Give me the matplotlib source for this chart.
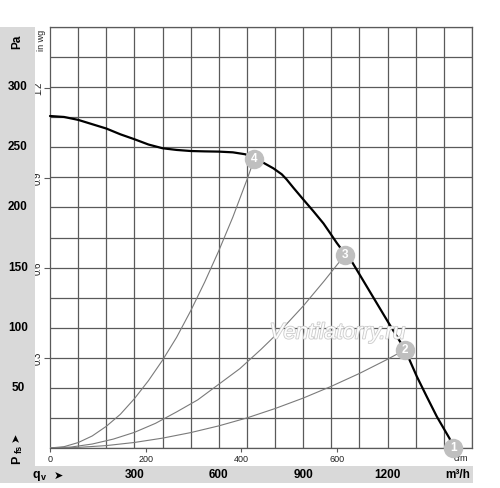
import matplotlib
matplotlib.use("Agg")
import matplotlib.pyplot as plt
import matplotlib.transforms as mtransforms
import matplotlib.patheffects as pe
from matplotlib.patches import Rectangle

plt.rcParams['font.family'] = ['Liberation Sans', 'DejaVu Sans']

# Fan curve (m3/h, Pa)
fan_q = [0, 50, 100, 150, 200, 250, 300, 350, 400, 450, 500, 550, 600, 650, 694, 726,
         758, 794, 824, 841, 865, 900, 936, 972, 995, 1019, 1050, 1072, 1132,
         1203, 1262, 1304, 1339, 1375, 1420, 1434]
fan_p = [276, 275.2, 272.8, 269.2, 265.6, 260.8, 256.7, 252.3, 249.2, 247.8, 246.9,
         246.6, 246.4, 245.8, 244.2, 240, 237.2, 232.5, 227.5, 223.3, 216.4, 206.7,
         196.9, 186.7, 178.9, 170.6, 160.8, 155.3, 131.9, 104.2, 81.7,
         59.4, 42.8, 26.1, 8, 0]

# System curves
sys4_q = [0, 50, 100, 150, 200, 250, 300, 350, 400, 450, 500, 550, 600, 650, 700, 726]
sys4_p = [0, 1.1, 4.5, 10, 18, 28, 41, 56, 73, 92, 114, 138, 164, 192, 223, 240]
sys3_q = [0, 75, 150, 225, 300, 375, 450, 525, 600, 675, 750, 825, 900, 975, 1050]
sys3_p = [0, 0.8, 3.3, 7.4, 13, 20.5, 30, 40, 53, 66, 82, 99, 118, 139, 161]
sys2_q = [0, 100, 200, 300, 400, 500, 600, 700, 800, 900, 1000, 1100, 1200, 1262]
sys2_p = [0, 0.5, 2, 4.6, 8.2, 12.8, 18.4, 25, 32.8, 41.5, 51.3, 62, 73.8, 81.7]

# Operating points
pt_q = [1434, 1262, 1050, 726]
pt_p = [0, 81.7, 160.8, 240]
pt_lbl = ['1', '2', '3', '4']

pa_ticks = [50, 100, 150, 200, 250, 300]
inwg_ticks = [0.3, 0.6, 0.9, 1.2]
cfm_ticks = [0, 200, 400, 600]
m3h_ticks = [300, 600, 900, 1200]

W, H = 500, 488
fig = plt.figure(figsize=(W / 100, H / 100), dpi=100)
fig.patch.set_facecolor('white')

gray = '#d9d9d9'
fig.patches.append(Rectangle((0, 5 / H), 35 / W, (483 - 27) / H, transform=fig.transFigure,
                             facecolor=gray, edgecolor='none', zorder=0))
fig.patches.append(Rectangle((0, 5 / H), 473 / W, 17 / H, transform=fig.transFigure,
                             facecolor=gray, edgecolor='none', zorder=0))

ax = fig.add_axes([50 / W, 40 / H, 422 / W, 421 / H])
ax.set_xlim(0, 1500)
ax.set_ylim(0, 350)

gcol = '#5a5a5a'
for s in ax.spines.values():
    s.set_color(gcol)
    s.set_linewidth(0.9)

ax.set_xticks(range(0, 1501, 100), minor=True)
ax.set_yticks(range(0, 351, 25), minor=True)
ax.grid(which='minor', color=gcol, linewidth=0.9)
ax.tick_params(which='minor', length=0)

ax.set_yticks([v * 249.09 for v in inwg_ticks])
ax.set_yticklabels([str(v) for v in inwg_ticks], rotation=90, va='center', fontsize=7,
                   color='#222222')
ax.tick_params(axis='y', which='major', length=4, width=0.8, color=gcol, pad=1)

ax.set_xticks([v * 1.699 for v in cfm_ticks])
ax.set_xticklabels([str(v) for v in cfm_ticks], fontsize=6.5, color='#222222')
ax.tick_params(axis='x', which='major', length=3, width=0.8, color=gcol, pad=2)

for qq, pp in [(sys4_q, sys4_p), (sys3_q, sys3_p), (sys2_q, sys2_p)]:
    ax.plot(qq, pp, color='#7a7a7a', lw=0.8, zorder=3, solid_joinstyle='round')
ax.plot(fan_q, fan_p, color='black', lw=1.6, zorder=4, clip_on=False,
        solid_joinstyle='round', solid_capstyle='round')

ax.text(0.52, 0.26, 'Ventilatorry.ru', transform=ax.transAxes, fontsize=16, style='italic',
        color='white', alpha=0.95, zorder=5,
        path_effects=[pe.withStroke(linewidth=1.2, foreground='#c8c8c8')])

for q, p, l in zip(pt_q, pt_p, pt_lbl):
    ax.plot(q, p, 'o', ms=14, color='#bfbfbf', mec='none', zorder=6, clip_on=False)
    ax.text(q, p, l, color='white', fontsize=8.5, fontweight='bold', ha='center',
            va='center', zorder=7, clip_on=False)

ax.text(1460, -9, 'cfm', fontsize=6.5, color='#222222', ha='center', va='center', zorder=2)

# Left strip labels
tr_y = mtransforms.blended_transform_factory(fig.transFigure, ax.transData)
for v in pa_ticks:
    fig.text(18 / W, v, str(v), transform=tr_y, fontsize=8.5, fontweight='bold',
             ha='center', va='center')
fig.text(17 / W, 1 - 42 / H, 'Pa', rotation=90, fontsize=8.5, fontweight='bold',
         ha='center', va='center')
fig.text(42 / W, 1 - 40 / H, 'in wg', rotation=90, fontsize=6.5, color='#222222',
         ha='center', va='center')
fig.text(17 / W, 1 - 460 / H, 'P', rotation=90, fontsize=9, fontweight='bold',
         ha='center', va='center')
fig.text(19 / W, 1 - 449 / H, 'fs', rotation=90, fontsize=6.5, fontweight='bold',
         ha='center', va='center')
fig.text(16 / W, 1 - 437 / H, '➤', rotation=90, fontsize=8, ha='center', va='center',
         family=['DejaVu Sans'])

# Bottom strip labels
tr_x = mtransforms.blended_transform_factory(ax.transData, fig.transFigure)
for v in m3h_ticks:
    fig.text(v, 1 - 475 / H, str(v), transform=tr_x, fontsize=8.5, fontweight='bold',
             ha='center', va='center')
fig.text(458 / W, 1 - 475 / H, 'm³/h', fontsize=8.5, fontweight='bold', ha='center',
         va='center')
fig.text(36 / W, 1 - 475 / H, 'q', fontsize=9, fontweight='bold', ha='center', va='center')
fig.text(43 / W, 1 - 477 / H, 'v', fontsize=6.5, fontweight='bold', ha='center',
         va='center')
fig.text(58 / W, 1 - 476 / H, '➤', fontsize=8, ha='center', va='center',
         family=['DejaVu Sans'])

fig.savefig('out.png', dpi=100)
